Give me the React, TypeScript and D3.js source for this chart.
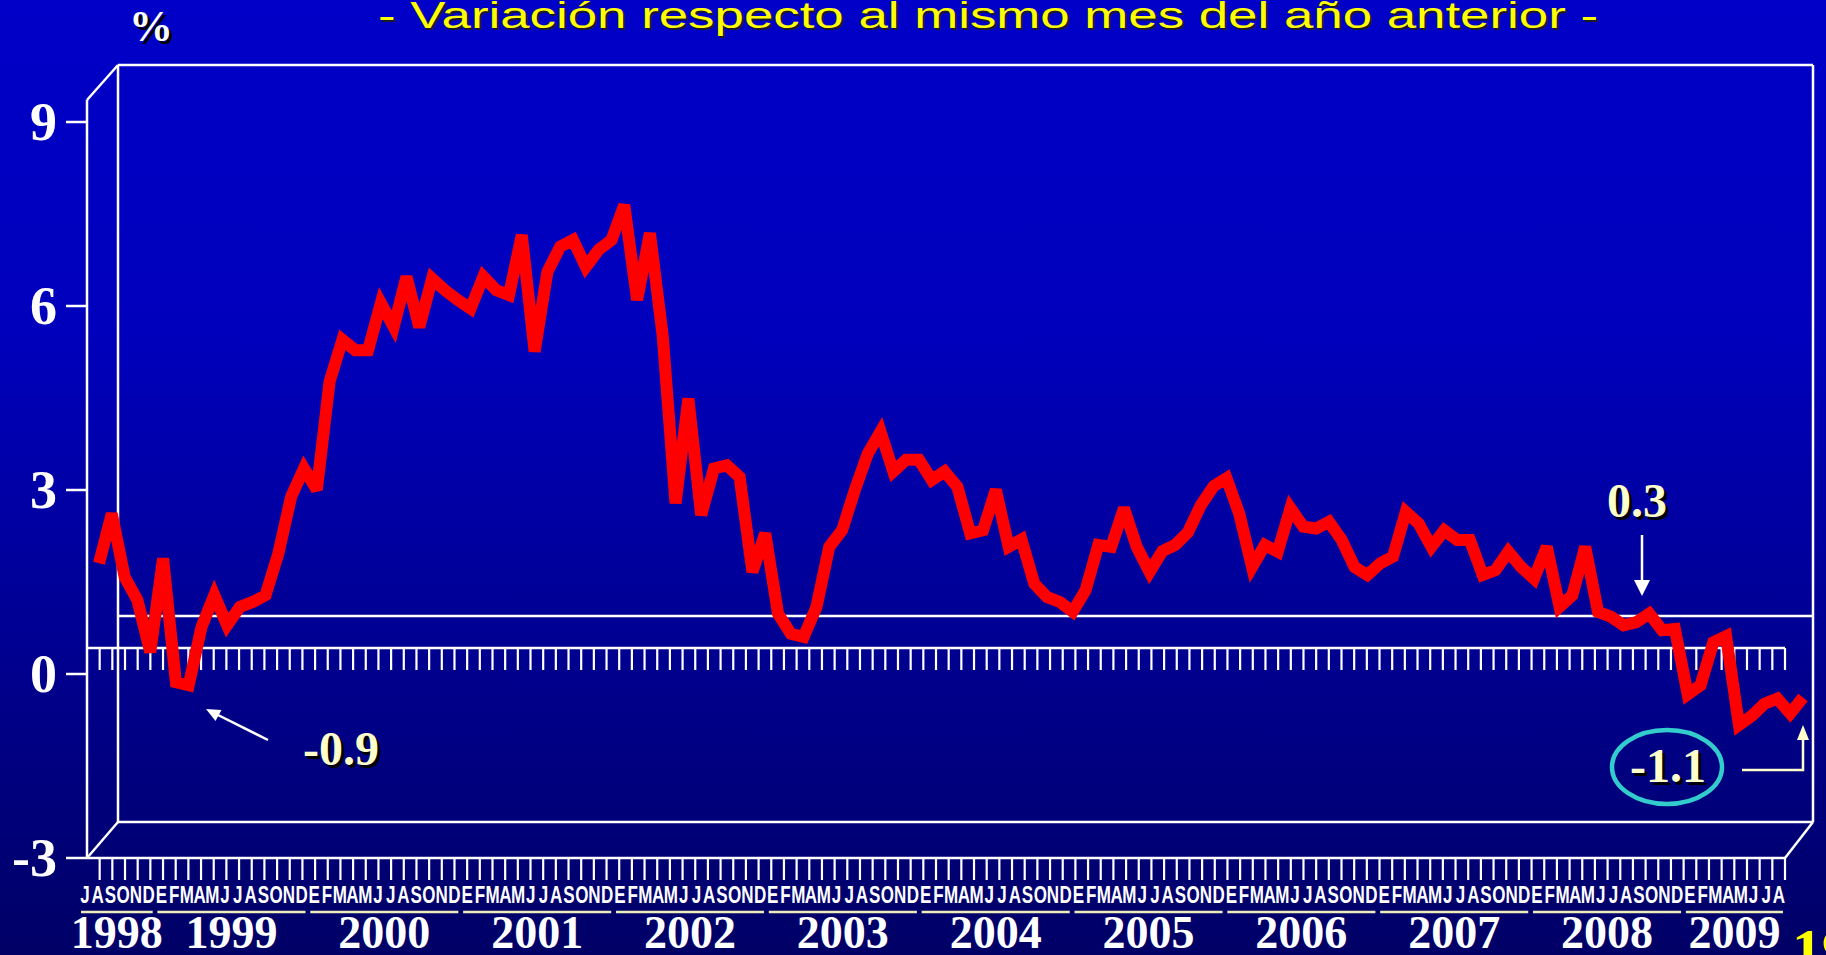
import React from "react";
import * as d3 from "d3";

const W = 1826;
const H = 955;

const titleText = "- Variación respecto al mismo mes del año anterior -";
const unitLabel = "%";
const yTickValues = [-3, 0, 3, 6, 9];
const monthInitials = ["E", "F", "M", "A", "M", "J", "J", "A", "S", "O", "N", "D"];
const yearLabels = ["1998", "1999", "2000", "2001", "2002", "2003", "2004", "2005", "2006", "2007", "2008", "2009"];

// monthly year-on-year variation (%), July 1998 .. August 2009
const values1998 = [1.19, 2.0, 0.97, 0.59, -0.26, 1.27];
const values1999 = [-0.75, -0.8, 0.15, 0.67, 0.18, 0.48, 0.56, 0.67, 1.35, 2.28, 2.74, 2.39];
const values2000 = [4.16, 4.84, 4.67, 4.67, 5.44, 5.05, 5.87, 5.05, 5.84, 5.65, 5.49, 5.35];
const values2001 = [5.87, 5.65, 5.57, 6.55, 4.65, 5.95, 6.36, 6.47, 6.03, 6.31, 6.47, 7.04];
const values2002 = [5.49, 6.58, 4.9, 2.17, 3.88, 1.98, 2.74, 2.79, 2.6, 1.05, 1.68, 0.37];
const values2003 = [0.04, -0.01, 0.48, 1.46, 1.73, 2.39, 2.98, 3.34, 2.69, 2.88, 2.88, 2.55];
const values2004 = [2.69, 2.44, 1.68, 1.73, 2.39, 1.46, 1.58, 0.86, 0.64, 0.56, 0.4, 0.75];
const values2005 = [1.49, 1.46, 2.09, 1.46, 1.05, 1.39, 1.49, 1.7, 2.14, 2.45, 2.58, 2.0];
const values2006 = [1.13, 1.49, 1.38, 2.09, 1.79, 1.76, 1.87, 1.57, 1.13, 1.0, 1.19, 1.3];
const values2007 = [2.03, 1.84, 1.46, 1.73, 1.57, 1.57, 1.0, 1.08, 1.38, 1.13, 0.94, 1.46];
const values2008 = [0.48, 0.67, 1.46, 0.4, 0.32, 0.18, 0.23, 0.37, 0.1, 0.12, -0.95, -0.8];
const values2009 = [-0.1, 0.0, -1.45, -1.3, -1.1, -1.02, -1.26, -1.0];

const annotationLow = "-0.9";
const annotationMid = "0.3";
const annotationLast = "-1.1";
const slideNumber = "19";

const yearValues = [values1998, values1999, values2000, values2001, values2002, values2003,
  values2004, values2005, values2006, values2007, values2008, values2009];

const SERIF = "'Liberation Serif', 'Times New Roman', serif";
const SANS = "'Liberation Sans', Arial, sans-serif";

export default function App() {
  // build categories
  const cats: { year: number; month: number }[] = [];
  const values: number[] = [];
  yearValues.forEach((arr, yi) => {
    const start = yi === 0 ? 12 - arr.length : 0;
    arr.forEach((v, k) => {
      cats.push({ year: yi, month: start + k });
      values.push(v);
    });
  });
  const n = values.length;

  // geometry of the pseudo-3D frame
  const fx0 = 87, fx1 = 1785; // front plane
  const depthX = 31, depthY = -35;
  const frontTop = 100, frontBottom = 858;
  const bx0 = fx0 + depthX, bx1 = fx1 + 28;
  const backTop = frontTop + depthY, backBottom = frontBottom - 36;

  const yFront = d3.scaleLinear().domain([-3, 9]).range([858, 122]);
  const xTick = d3.scaleLinear().domain([0, n]).range([fx0, fx1]);
  const xLab = d3.scaleLinear().domain([0, n - 1]).range([85, 1779]);
  const xLine = d3.scaleLinear().domain([0, n - 1]).range([99, 1803]);
  const yLine = d3.scaleLinear().domain([-3, 9]).range([820, 85]);

  const linePath = d3
    .line<number>()
    .x((_, i) => xLine(i))
    .y((d) => yLine(d))(values) || "";

  const stripTop = 648, stripTick = 670, backZero = 616;

  // year groups
  const groups = yearLabels.map((label, yi) => {
    const idx = cats.map((c, i) => (c.year === yi ? i : -1)).filter((i) => i >= 0);
    const first = idx[0], last = idx[idx.length - 1];
    return { label, first, last, cx: (xLab(first) + xLab(last)) / 2 };
  });

  const white = "#FFFFFF";
  const cream = "#FFFFCC";
  const sw = 2.5;

  const ticks = d3.range(1, n + 1);

  return (
    <svg
      width={W}
      height={H}
      style={{ position: "absolute", left: 0, top: 0, display: "block" }}
      xmlns="http://www.w3.org/2000/svg"
    >
      <defs>
        <linearGradient id="bg" x1="0" y1="0" x2="0" y2="1">
          <stop offset="0" stopColor="#0000C8" />
          <stop offset="0.35" stopColor="#0000BC" />
          <stop offset="1" stopColor="#000066" />
        </linearGradient>
      </defs>
      <rect x={0} y={0} width={W} height={H} fill="url(#bg)" />

      {/* title */}
      <text x={380} y={30} fontFamily={SANS} fontSize={36} fill="#222200" opacity={0.8}
        textLength={1220} lengthAdjust="spacingAndGlyphs">{titleText}</text>
      <text x={378} y={28} fontFamily={SANS} fontSize={36} fill="#FFFF00"
        textLength={1220} lengthAdjust="spacingAndGlyphs">{titleText}</text>

      {/* unit */}
      <text x={154} y={44} textAnchor="middle" fontFamily={SERIF} fontWeight="bold" fontSize={44} fill="#000000">{unitLabel}</text>
      <text x={151} y={41} textAnchor="middle" fontFamily={SERIF} fontWeight="bold" fontSize={44} fill={white}>{unitLabel}</text>

      {/* back wall */}
      <g stroke={white} strokeWidth={sw} fill="none">
        <line x1={bx0} y1={backTop} x2={bx1} y2={backTop} />
        <line x1={bx0} y1={backTop} x2={bx0} y2={backBottom} />
        <line x1={bx1} y1={backTop} x2={bx1} y2={backBottom} />
        <line x1={bx0} y1={backBottom} x2={bx1} y2={backBottom} />
        <line x1={fx0} y1={frontTop} x2={bx0} y2={backTop} />
        <line x1={fx0} y1={frontTop} x2={fx0} y2={frontBottom} />
        <line x1={fx0} y1={frontBottom} x2={bx0} y2={backBottom} />
        <line x1={fx0} y1={frontBottom} x2={fx1} y2={frontBottom} />
        <line x1={fx1} y1={frontBottom} x2={bx1} y2={backBottom} />
        {/* zero level */}
        <line x1={bx0} y1={backZero} x2={bx1} y2={backZero} />
        <line x1={fx0} y1={stripTop} x2={fx1} y2={stripTop} />
        {ticks.map((k) => (
          <line key={"st" + k} x1={xTick(k)} y1={stripTop} x2={xTick(k)} y2={stripTick} strokeWidth={2.2} />
        ))}
        {ticks.map((k) => (
          <line key={"bt" + k} x1={xTick(k)} y1={frontBottom} x2={xTick(k)} y2={880} strokeWidth={2.2} />
        ))}
        {/* value ticks */}
        {yTickValues.map((v) => (
          <line key={"yt" + v} x1={66} y1={yFront(v)} x2={fx0} y2={yFront(v)} />
        ))}
      </g>

      {/* value labels */}
      {yTickValues.map((v) => (
        <text key={"yl" + v} x={57} y={yFront(v) + 18} textAnchor="end" fontFamily={SERIF}
          fontWeight="bold" fontSize={54} fill={white}>{String(v)}</text>
      ))}

      {/* series */}
      <path d={linePath} fill="none" stroke="#FF0000" strokeWidth={12} strokeLinejoin="miter" strokeMiterlimit={3} />

      {/* month letters */}
      {cats.map((c, i) => (
        <text key={"m" + i} transform={`translate(${xLab(i)},903) scale(0.74,1)`} textAnchor="middle"
          fontFamily={SANS} fontWeight="bold" fontSize={23} fill={white}>{monthInitials[c.month]}</text>
      ))}

      {/* year underlines and labels */}
      {groups.map((g) => (
        <g key={g.label}>
          <line x1={xLab(g.first) - 4} x2={xLab(g.last) + 4} y1={912} y2={912} stroke="#EDEDB8" strokeWidth={2.5} />
          <text x={g.cx} y={948} textAnchor="middle" fontFamily={SERIF} fontWeight="bold" fontSize={46} fill={white}>{g.label}</text>
        </g>
      ))}

      {/* annotation -0.9 */}
      <line x1={268} y1={740} x2={216} y2={714} stroke={white} strokeWidth={2.5} />
      <polygon points="206,709 221.5,710 215.5,721" fill={white} />
      <text x={306} y={768} fontFamily={SERIF} fontWeight="bold" fontSize={48} fill="#000000">{annotationLow}</text>
      <text x={303} y={765} fontFamily={SERIF} fontWeight="bold" fontSize={48} fill={cream}>{annotationLow}</text>

      {/* annotation 0.3 */}
      <text x={1640} y={520} textAnchor="middle" fontFamily={SERIF} fontWeight="bold" fontSize={48} fill="#000000">{annotationMid}</text>
      <text x={1637} y={517} textAnchor="middle" fontFamily={SERIF} fontWeight="bold" fontSize={48} fill={cream}>{annotationMid}</text>
      <line x1={1642} y1={535} x2={1642} y2={584} stroke={white} strokeWidth={2.5} />
      <polygon points="1634,580 1650,580 1642,596" fill={white} />

      {/* annotation -1.1 */}
      <ellipse cx={1667} cy={767} rx={55} ry={37} fill="none" stroke="#33CCCC" strokeWidth={4.5} />
      <text x={1671} y={785} textAnchor="middle" fontFamily={SERIF} fontWeight="bold" fontSize={48} fill="#000000">{annotationLast}</text>
      <text x={1668} y={782} textAnchor="middle" fontFamily={SERIF} fontWeight="bold" fontSize={48} fill={cream}>{annotationLast}</text>
      <polyline points="1742,770 1803,770 1803,738" fill="none" stroke={cream} strokeWidth={2.5} />
      <polygon points="1797,740 1809,740 1803,725" fill={cream} />

      {/* slide number */}
      <text x={1792} y={970} fontFamily={SERIF} fontWeight="bold" fontSize={60} fill="#FFFF00">{slideNumber}</text>
    </svg>
  );
}
